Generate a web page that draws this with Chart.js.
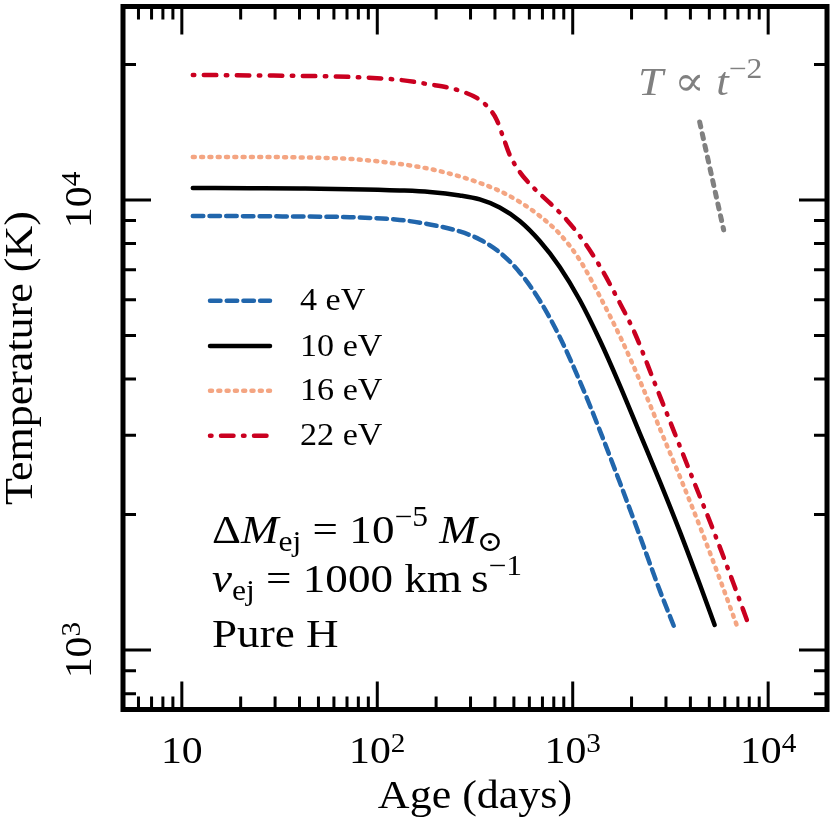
<!DOCTYPE html>
<html>
<head>
<meta charset="utf-8">
<script src="https://cdn.jsdelivr.net/npm/chart.js@4.4.0/dist/chart.umd.min.js"></script>
<style>
html, body { margin: 0; padding: 0; background: #fff; }
canvas { display: block; }
</style>
</head>
<body>
<canvas id="myChart" width="830" height="822"></canvas>
<script>
// series (age in days, temperature in K)
const seriesLabels = ['4 eV', '10 eV', '16 eV', '22 eV'];

const age4 = [11.38, 22.28, 40.14, 72.34, 130.3, 185.6, 264.2, 334.5, 423.1, 535.6, 678.1, 858.1, 1086, 1374, 1739, 2201, 2786, 3323];
const temp4 = [9214, 9204, 9186, 9158, 9029, 8823, 8511, 8170, 7647, 6902, 5979, 4961, 3960, 3082, 2362, 1796, 1359, 1119];

const age10 = [11.38, 22.28, 40.14, 72.34, 130.3, 185.6, 264.2, 334.5, 423.1, 535.6, 678.1, 858.1, 1086, 1374, 1739, 2201, 2786, 3526, 4462, 5324];
const temp10 = [10633, 10617, 10600, 10568, 10498, 10418, 10233, 10026, 9624, 8982, 8107, 7099, 5995, 4885, 3880, 3035, 2374, 1838, 1402, 1137];

const age16 = [11.38, 22.28, 40.14, 72.34, 130.3, 185.6, 264.2, 334.5, 423.1, 535.6, 678.1, 858.1, 1086, 1407, 1781, 2254, 2853, 3610, 4568, 5783, 6901];
const temp16 = [12460, 12460, 12430, 12336, 12023, 11719, 11278, 10909, 10471, 9898, 9214, 8404, 7356, 5995, 4885, 3880, 3035, 2374, 1838, 1402, 1137];

const age22 = [11.38, 22.28, 40.14, 72.34, 130.3, 185.6, 234.9, 280.2, 322.9, 367.5, 408.6, 438.5, 476.2, 535.6, 624.3, 762.6, 931.7, 1125, 1374, 1679, 2076, 2627, 3323, 4157, 5263, 6661, 7856];
const temp22 = [18957, 18909, 18861, 18764, 18478, 18058, 17738, 17334, 16853, 16094, 15060, 13876, 12589, 11540, 10687, 9848, 9029, 8149, 7135, 6087, 5063, 3920, 3035, 2374, 1838, 1402, 1154];

// T ~ t^-2 guide segment
const ageGuide = [4462, 5920];
const tempGuide = [14900, 8580];

const xMajor = [10, 100, 1000, 10000];
const xMajorLabels = [['10', ''], ['10', '2'], ['10', '3'], ['10', '4']];
const yMajor = [1000, 10000];
const yMajorLabels = [['10', '3'], ['10', '4']];

const FONT = '"Liberation Serif", "DejaVu Serif", serif';
const SX = 1.1;

function pts(a, t) {
    return a.map(function (v, i) { return {x: v, y: t[i]}; });
}

function minorTicks(lo, hi) {
    let out = [];
    for (let d = 1; d <= 10000; d *= 10) {
        for (let m = 2; m <= 9; m++) {
            let v = m * d;
            if (v > lo && v < hi) out.push(v);
        }
    }
    return out;
}

// parts: {t, i (italic), s (scale), dy (in em)}
function drawRich(ctx, x, y, parts, size, align, color) {
    ctx.save();
    ctx.fillStyle = color;
    ctx.textBaseline = 'alphabetic';
    ctx.textAlign = 'left';
    let segs = parts.map(function (p) {
        let f = (p.i ? 'italic ' : '') + (size * (p.s || 1)) + 'px ' + FONT;
        ctx.font = f;
        return {t: p.t, f: f, w: ctx.measureText(p.t).width * SX, dy: (p.dy || 0) * size};
    });
    let total = segs.reduce(function (a, b) { return a + b.w; }, 0);
    let cx = align === 'center' ? x - total / 2 : x;
    segs.forEach(function (sg) {
        ctx.save();
        ctx.translate(cx, y + sg.dy);
        ctx.scale(SX, 1);
        ctx.font = sg.f;
        ctx.fillText(sg.t, 0, 0);
        ctx.restore();
        cx += sg.w;
    });
    ctx.restore();
}

const framePlugin = {
    id: 'frame',
    afterDatasetsDraw: function (chart) {
        const ctx = chart.ctx;
        const a = chart.chartArea;
        const xs = chart.scales.x;
        const ys = chart.scales.y;

        // legend inside the plot
        const rows = [300.7, 346, 390.7, 435.7];
        chart.data.datasets.slice(0, 4).forEach(function (ds, i) {
            ctx.save();
            ctx.strokeStyle = ds.borderColor;
            ctx.lineWidth = ds.borderWidth;
            ctx.lineCap = 'round';
            ctx.setLineDash(ds.borderDash || []);
            ctx.beginPath();
            ctx.moveTo(210, rows[i]);
            ctx.lineTo(270, rows[i]);
            ctx.stroke();
            ctx.restore();
            drawRich(ctx, 300, rows[i] + 9.5, [{t: ds.label}], 31, 'left', '#000');
        });

        // frame
        ctx.save();
        ctx.strokeStyle = '#000';
        ctx.lineWidth = 5;
        ctx.strokeRect(a.left, a.top, a.right - a.left, a.bottom - a.top);

        // inward ticks
        ctx.lineWidth = 3;
        function tickX(v, len) {
            let p = xs.getPixelForValue(v);
            ctx.beginPath();
            ctx.moveTo(p, a.bottom); ctx.lineTo(p, a.bottom - len);
            ctx.moveTo(p, a.top); ctx.lineTo(p, a.top + len);
            ctx.stroke();
        }
        function tickY(v, len) {
            let p = ys.getPixelForValue(v);
            ctx.beginPath();
            ctx.moveTo(a.left, p); ctx.lineTo(a.left + len, p);
            ctx.moveTo(a.right, p); ctx.lineTo(a.right - len, p);
            ctx.stroke();
        }
        xMajor.forEach(function (v) { tickX(v, 28); });
        minorTicks(xs.min, xs.max).forEach(function (v) { tickX(v, 13); });
        yMajor.forEach(function (v) { tickY(v, 28); });
        minorTicks(ys.min, ys.max).forEach(function (v) { tickY(v, 13); });
        ctx.restore();

        // tick labels
        xMajor.forEach(function (v, i) {
            let lb = xMajorLabels[i];
            let parts = [{t: lb[0]}];
            if (lb[1]) parts.push({t: lb[1], s: 0.7, dy: -0.3});
            drawRich(ctx, xs.getPixelForValue(v), 763, parts, 38, 'center', '#000');
        });
        yMajor.forEach(function (v, i) {
            let lb = yMajorLabels[i];
            ctx.save();
            ctx.translate(91, ys.getPixelForValue(v));
            ctx.rotate(-Math.PI / 2);
            drawRich(ctx, 0, 0, [{t: lb[0]}, {t: lb[1], s: 0.7, dy: -0.3}], 38, 'center', '#000');
            ctx.restore();
        });

        // axis titles
        drawRich(ctx, (a.left + a.right) / 2, 808, [{t: 'Age (days)'}], 40, 'center', '#000');
        ctx.save();
        ctx.translate(32, (a.top + a.bottom) / 2);
        ctx.rotate(-Math.PI / 2);
        drawRich(ctx, 0, 0, [{t: 'Temperature (K)'}], 40, 'center', '#000');
        ctx.restore();

        // annotations
        drawRich(ctx, 212, 543, [
            {t: '\u0394'}, {t: 'M', i: true}, {t: 'ej', s: 0.7, dy: 0.2},
            {t: ' = 10'}, {t: '\u22125', s: 0.7, dy: -0.42}, {t: ' '},
            {t: 'M', i: true}, {t: '\u2299', s: 0.7, dy: 0.2}
        ], 41, 'left', '#000');
        drawRich(ctx, 212, 592, [
            {t: 'v', i: true}, {t: 'ej', s: 0.7, dy: 0.2},
            {t: ' = 1000 km\u2009s'}, {t: '\u22121', s: 0.7, dy: -0.42}
        ], 41, 'left', '#000');
        drawRich(ctx, 212, 647, [{t: 'Pure H'}], 41, 'left', '#000');
        drawRich(ctx, 638, 95, [
            {t: 'T', i: true}, {t: ' \u221D '}, {t: 't', i: true}, {t: '\u22122', s: 0.7, dy: -0.42}
        ], 41, 'left', '#808080');
    }
};

const data = {
    datasets: [
        {
            label: seriesLabels[0],
            data: pts(age4, temp4),
            borderColor: '#2166ac',
            borderWidth: 4.5,
            borderDash: [10.5, 6.2]
        },
        {
            label: seriesLabels[1],
            data: pts(age10, temp10),
            borderColor: '#000000',
            borderWidth: 4.5,
            borderDash: []
        },
        {
            label: seriesLabels[2],
            data: pts(age16, temp16),
            borderColor: '#f4a582',
            borderWidth: 4.5,
            borderDash: [2, 6.3]
        },
        {
            label: seriesLabels[3],
            data: pts(age22, temp22),
            borderColor: '#ca0020',
            borderWidth: 4.5,
            borderDash: [1.5, 9.5, 12.5, 9.5]
        },
        {
            label: '',
            data: pts(ageGuide, tempGuide),
            borderColor: '#808080',
            borderWidth: 5,
            borderDash: [5, 7]
        }
    ]
};

const config = {
    type: 'line',
    data: data,
    options: {
        responsive: false,
        animation: false,
        events: [],
        layout: {padding: {top: 6.5, right: 3, left: 0, bottom: 0}},
        elements: {
            point: {radius: 0},
            line: {
                cubicInterpolationMode: 'monotone',
                borderCapStyle: 'round',
                borderJoinStyle: 'round',
                fill: false
            }
        },
        plugins: {
            legend: {display: false},
            tooltip: {enabled: false}
        },
        scales: {
            x: {
                type: 'logarithmic',
                min: 5,
                max: 20000,
                ticks: {display: false},
                grid: {display: false},
                border: {display: false},
                afterFit: function (s) { s.height = 112.5; }
            },
            y: {
                type: 'logarithmic',
                min: 738,
                max: 26900,
                ticks: {display: false},
                grid: {display: false},
                border: {display: false},
                afterFit: function (s) { s.width = 123; }
            }
        }
    },
    plugins: [framePlugin]
};

const myChart = new Chart(document.getElementById('myChart'), config);
</script>
</body>
</html>
